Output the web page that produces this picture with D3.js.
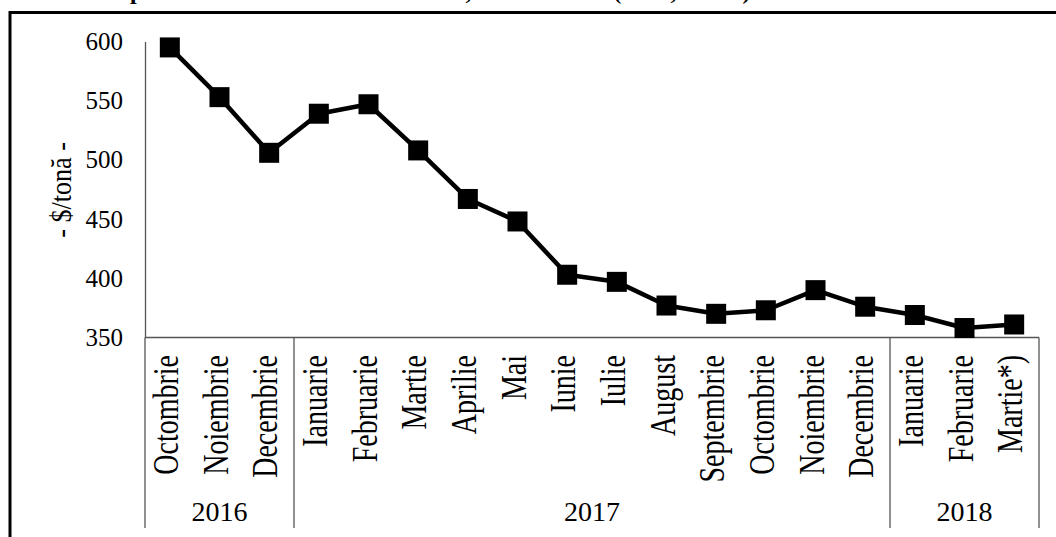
<!DOCTYPE html>
<html>

<head>
  <meta charset="utf-8" />
  <title>Pret mediu - $/tona</title>
  <script src="https://d3js.org/d3.v7.min.js"></script>
  <style>
    body { margin: 0; background: #fff; }
    text { font-family: "Liberation Serif", "Times New Roman", serif; fill: #000; }
  </style>
</head>

<body>
  <div id="chart"></div>
  <script type="text/javascript">

    // month labels, one per point
    var months = ["Octombrie", "Noiembrie", "Decembrie",
      "Ianuarie", "Februarie", "Martie", "Aprilie", "Mai", "Iunie", "Iulie",
      "August", "Septembrie", "Octombrie", "Noiembrie", "Decembrie",
      "Ianuarie", "Februarie", "Martie*)"]
    // year groups and how many months each one covers
    var years = ["2016", "2017", "2018"]
    var yearCounts = [3, 12, 3]
    // price, $/tonă
    var prices = [595, 553, 506, 539, 547, 508, 467, 448, 403, 397, 377, 370, 373, 390, 376, 369, 358, 361]
    var yTicks = [350, 400, 450, 500, 550, 600]

    var width = 1056, height = 537
    var plotLeft = 145, plotRight = 1039, plotTop = 41.5, plotBottom = 337.5

    var svg = d3.select("#chart").append("svg")
      .attr("width", width)
      .attr("height", height)

    /* frame around the figure, only top and left are inside the picture */
    svg.append("rect")
      .attr("x", 10).attr("y", 12.5)
      .attr("width", 1200).attr("height", 700)
      .attr("fill", "none")
      .attr("stroke", "#000")
      .attr("stroke-width", 3)

    // title sits above the picture, only its lower edge shows
    svg.append("text")
      .attr("x", 102).attr("y", -1)
      .style("font-weight", "bold")
      .style("font-size", "24px")
      .text("Exportul de uree \u00een ultimele 18 luni, medii lunare (FOB, Baltic)")

    var idx = months.map(function (d, i) { return i })

    var x = d3.scaleBand()
      .domain(idx)
      .range([plotLeft, plotRight])

    var y = d3.scaleLinear()
      .domain([350, 600])
      .range([plotBottom, plotTop])

    // y axis
    var yAxis = svg.append("g")
      .attr("transform", "translate(" + plotLeft + ",0)")
      .call(d3.axisLeft(y).tickValues(yTicks).tickSize(0).tickPadding(22))
    yAxis.select(".domain").attr("stroke", "#555").attr("stroke-width", 1.3)
    yAxis.selectAll("text")
      .style("font-size", "25px")
      .style("font-family", "Liberation Serif, serif")

    svg.append("text")
      .attr("transform", "translate(71,190) rotate(-90) scale(0.87,1)")
      .attr("text-anchor", "middle")
      .style("font-size", "30px")
      .text("- $/tonă -")

    // x axis line
    svg.append("line")
      .attr("x1", plotLeft).attr("x2", plotRight)
      .attr("y1", plotBottom).attr("y2", plotBottom)
      .attr("stroke", "#555").attr("stroke-width", 1.3)

    // year separators
    var bounds = [0]
    yearCounts.forEach(function (c, i) { bounds.push(bounds[i] + c) })
    function edge(k) { return k < months.length ? x(k) : plotRight }

    svg.selectAll(".sep")
      .data(bounds)
      .enter().append("line")
      .attr("class", "sep")
      .attr("x1", edge)
      .attr("x2", edge)
      .attr("y1", plotBottom).attr("y2", 528)
      .attr("stroke", "#555").attr("stroke-width", 1.3)

    svg.selectAll(".year")
      .data(years)
      .enter().append("text")
      .attr("class", "year")
      .attr("x", function (d, i) { return (edge(bounds[i]) + edge(bounds[i + 1])) / 2 })
      .attr("y", 521)
      .attr("text-anchor", "middle")
      .style("font-size", "28px")
      .text(function (d) { return d })

    svg.selectAll(".month")
      .data(months)
      .enter().append("text")
      .attr("class", "month")
      .attr("transform", function (d, i) {
        return "translate(" + (x(i) + x.bandwidth() / 2) + ",355) rotate(-90) scale(0.8,1)"
      })
      .attr("y", 8)
      .attr("text-anchor", "end")
      .style("font-size", "35px")
      .text(function (d) { return d })

    // price line and square markers
    var line = d3.line()
      .x(function (d, i) { return x(i) + x.bandwidth() / 2 })
      .y(function (d) { return y(d) })

    svg.append("path")
      .datum(prices)
      .attr("d", line)
      .attr("fill", "none")
      .attr("stroke", "#000")
      .attr("stroke-width", 4.5)
      .attr("stroke-linejoin", "round")

    svg.selectAll(".mark")
      .data(prices)
      .enter().append("rect")
      .attr("class", "mark")
      .attr("x", function (d, i) { return x(i) + x.bandwidth() / 2 - 10 })
      .attr("y", function (d) { return y(d) - 10 })
      .attr("width", 20)
      .attr("height", 20)
      .attr("fill", "#000")
  </script>
</body>

</html>
